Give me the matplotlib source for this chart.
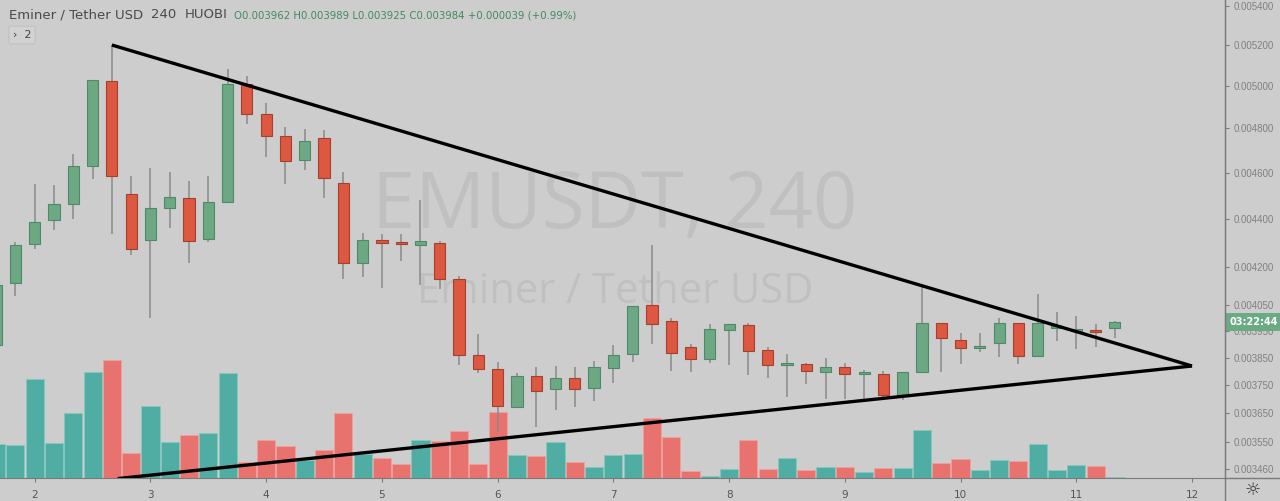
import numpy as np
import matplotlib
matplotlib.use("Agg")
import matplotlib.pyplot as plt
import matplotlib.transforms as mtransforms

# EMUSDT 4h candles (prices in 1e-6 USDT), first candle is partly off-screen
start_idx = -2
opens = [3898, 4136, 4297, 4395, 4463, 4630, 5023, 4509, 4312, 4447, 4491, 4315, 4471, 5008, 4866, 4766,
         4657, 4758, 4556, 4217, 4312, 4303, 4293, 4299, 4154, 3860, 3808, 3672, 3784, 3736, 3776, 3739,
         3814, 3865, 4050, 3988, 3892, 3844, 3955, 3974, 3879, 3824, 3829, 3797, 3817, 3791, 3790, 3716,
         3798, 3980, 3918, 3887, 3905, 3980, 3857, 3961, 3951, 3954, 3962]
highs = [4135, 4304, 4551, 4546, 4682, 5029, 5201, 4586, 4620, 4605, 4562, 4586, 5081, 5049, 4918, 4806,
         4796, 4793, 4605, 4340, 4336, 4336, 4481, 4308, 4167, 3940, 3834, 3796, 3818, 3820, 3818, 3840,
         3896, 4047, 4292, 4000, 3901, 3978, 3978, 3983, 3890, 3864, 3832, 3850, 3830, 3806, 3802, 3798,
         4120, 3980, 3942, 3942, 4002, 3980, 4093, 4025, 4008, 3977, 3989]
lows = [3890, 4084, 4275, 4355, 4400, 4571, 4337, 4249, 4000, 4364, 4219, 4303, 4471, 4820, 4672, 4552,
        4614, 4491, 4152, 4160, 4117, 4227, 4130, 4113, 3824, 3796, 3586, 3672, 3604, 3660, 3672, 3695,
        3759, 3834, 3901, 3801, 3798, 3830, 3824, 3787, 3775, 3707, 3755, 3701, 3701, 3701, 3709, 3698,
        3793, 3798, 3827, 3873, 3852, 3827, 3857, 3914, 3883, 3890, 3925]
closes = [4130, 4292, 4387, 4464, 4629, 5028, 4585, 4275, 4448, 4496, 4308, 4471, 5011, 4866, 4766, 4652,
          4741, 4578, 4217, 4312, 4299, 4297, 4307, 4155, 3861, 3808, 3676, 3784, 3730, 3776, 3736, 3817,
          3861, 4046, 3978, 3867, 3844, 3957, 3978, 3877, 3824, 3831, 3802, 3818, 3791, 3797, 3716, 3798,
          3980, 3925, 3887, 3894, 3980, 3857, 3980, 3970, 3957, 3945, 3984]
volumes = [34, 33, 99, 35, 65, 106, 118, 25, 72, 36, 43, 45, 105, 16, 38, 32, 18, 28, 65, 24, 20, 14, 38,
           37, 47, 14, 66, 23, 22, 36, 16, 11, 23, 24, 60, 41, 7, 2, 9, 38, 9, 20, 8, 11, 11, 6, 10, 10, 48,
           15, 19, 8, 18, 17, 34, 8, 13, 12, 1]

day_labels = ['2', '3', '4', '5', '6', '7', '8', '9', '10', '11', '12']
price_ticks = [0.005400, 0.005200, 0.005000, 0.004800, 0.004600, 0.004400, 0.004200, 0.004050,
               0.003950, 0.003850, 0.003750, 0.003650, 0.003550, 0.003460]

# trend lines (candle index, price)
upper_line = ([4, 60], [0.005201, 0.003820])
lower_line = ([4.3, 60], [0.003428, 0.003820])

scale = 1e-6
o = np.array(opens) * scale
h = np.array(highs) * scale
l = np.array(lows) * scale
c = np.array(closes) * scale
x = np.arange(start_idx, start_idx + len(opens))
up = c >= o

bg = '#cdcdcd'
green_body = '#6ba883'
green_edge = '#4f8a66'
red_body = '#dc5841'
red_edge = '#a5402f'
vol_green = '#4fada3'
vol_red = '#e8726e'
axis_col = '#7a7a7a'

W, H = 1280, 501
fig = plt.figure(figsize=(W / 100, H / 100), dpi=100, facecolor=bg)
rect = [0, 23 / H, 1225 / W, 478 / H]

axv = fig.add_axes(rect)
axv.set_facecolor(bg)
axv.bar(x, volumes, width=0.94, color=np.where(up, vol_green, vol_red),
        edgecolor=np.where(up, '#86c8c0', '#f2a09c'), linewidth=0.6)
axv.set_ylim(0, max(volumes) * 4.05)
axv.set_xlim(-1.80, 61.71)
axv.axis('off')

ax = fig.add_axes(rect, sharex=axv)
ax.patch.set_visible(False)
ax.set_yscale('log')
ax.set_ylim(0.003430, 0.005431)

# watermark
ax.text(0.502, 0.523, 'EMUSDT, 240', transform=ax.transAxes, ha='center', va='baseline',
        fontsize=56, color='#c0c0c0', family='Open Sans', zorder=0)
ax.text(0.502, 0.366, 'Eminer / Tether USD', transform=ax.transAxes, ha='center', va='baseline',
        fontsize=30, color='#c0c0c0', family='Open Sans', zorder=0)

ax.vlines(x, l, h, color='#8a8a8a', linewidth=1.1, zorder=2)
ax.bar(x, np.abs(c - o), bottom=np.minimum(o, c), width=0.58,
       color=np.where(up, green_body, red_body), edgecolor=np.where(up, green_edge, red_edge),
       linewidth=0.8, zorder=3)

ax.plot(*upper_line, color='black', linewidth=2.4, zorder=4, solid_capstyle='butt')
ax.plot(*lower_line, color='black', linewidth=2.4, zorder=4, solid_capstyle='butt')

# axes styling
for s in ['left', 'top']:
    ax.spines[s].set_visible(False)
ax.spines['right'].set_color(axis_col)
ax.spines['bottom'].set_color(axis_col)
ax.yaxis.tick_right()
ax.yaxis.set_minor_locator(matplotlib.ticker.NullLocator())
ax.set_yticks(price_ticks)
ax.set_yticklabels(['%.6f' % p for p in price_ticks])
ax.tick_params(axis='y', colors=axis_col, labelcolor='#808080', labelsize=7, length=3, pad=3,
               labelfontfamily='Liberation Sans')
ax.set_xticks(np.arange(0, 61, 6))
ax.set_xticklabels(day_labels)
ax.tick_params(axis='x', colors=axis_col, labelcolor='#555555', labelsize=7.5, length=3, pad=6)

# right axis line continues to the bottom of the figure
fig.add_artist(plt.Line2D([1225 / W, 1225 / W], [0, 1], color=axis_col, linewidth=1,
                          transform=fig.transFigure))
fig.add_artist(plt.Line2D([1225 / W, 1], [23 / H, 23 / H], color=axis_col, linewidth=1,
                          transform=fig.transFigure))

# last price / countdown label
blend = mtransforms.blended_transform_factory(ax.transAxes, ax.transData)
ax.text(1.004, c[-1], '03:22:44', transform=blend, ha='left', va='center', fontsize=7,
        color='white', fontweight='bold', clip_on=False, zorder=6,
        bbox=dict(boxstyle='square,pad=0.4', facecolor='#6aab84', edgecolor='none'))

# header
fig.text(9 / W, 1 - 15 / H, 'Eminer / Tether USD', fontsize=9.5, color='#4a4a4a', va='center')
fig.text(151 / W, 1 - 15 / H, '240', fontsize=9.5, color='#4a4a4a', va='center')
fig.text(185 / W, 1 - 15 / H, 'HUOBI', fontsize=9.5, color='#4a4a4a', va='center')
fig.text(234 / W, 1 - 15 / H,
         'O%.6f H%.6f L%.6f C%.6f +%.6f (+0.99%%)' % (o[-1], h[-1], l[-1], c[-1], c[-1] - c[-2]),
         fontsize=7.3, color='#3f8a5c', va='center')
fig.text(22 / W, 1 - 35 / H, '›  2', fontsize=8, color='#444444', ha='center', va='center',
         bbox=dict(boxstyle='round,pad=0.35,rounding_size=0.2', facecolor='#d2d2d2',
                   edgecolor='#c0c0c0', linewidth=0.8))

fig.text(1253 / W, 11 / H, '☼', fontsize=13, color='#333333', ha='center', va='center')

fig.savefig('out.png', dpi=100, facecolor=bg)
